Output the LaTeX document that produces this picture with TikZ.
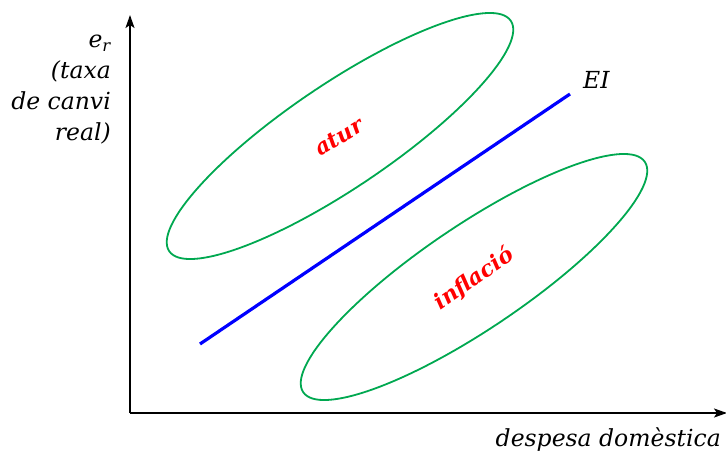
\documentclass[tikz,border=0pt]{standalone}
\usepackage{fontspec}
\setmainfont{DejaVu Serif}
\usetikzlibrary{shapes.geometric,arrows.meta}
\definecolor{zgreen}{RGB}{0,168,80}
\begin{document}
\begin{tikzpicture}[x=1pt,y=-1pt,
  axis/.style={line width=1.8pt,-{Stealth[length=13pt,width=9pt,inset=3pt]}},
  blob/.style={ellipse,draw=zgreen,line width=1.8pt,minimum width=412pt,minimum height=104pt,inner sep=0pt},
  lbl/.style={text=red,font=\fontsize{22}{26}\selectfont\bfseries\itshape,inner sep=0pt},
  txt/.style={font=\fontsize{23.5}{31}\selectfont\itshape,inner sep=0pt},
  eiline/.style={draw=blue,line width=3.2pt}]
\useasboundingbox (0,0) rectangle (726,453);
\coordinate (O) at (130,413);
\coordinate (Ytop) at (130,15);
\coordinate (Xend) at (727,413);
\draw[axis] (O) -- (Ytop);
\draw[axis] (O) -- (Xend);
\node[blob,rotate=34] (ell1) at (340,136) {};
\node[blob,rotate=34] (ell2) at (474,277) {};
\node[lbl,rotate=31] (atur) at (339,137) {atur};
\node[lbl,rotate=35] (infl) at (474,279) {inflació};
\coordinate (EIa) at (200,344);
\coordinate (EIb) at (570,94);
\draw[eiline] (EIa) -- (EIb);
\node[txt,anchor=west] (EI) at (583,80) {EI};
\node[txt,anchor=north east,align=right] (ylab) at (111,35) {e\textsubscript{r}\\(taxa\\de canvi\\real)};
\node[txt,anchor=east] (xlab) at (721,440) {despesa domèstica};
\end{tikzpicture}
\end{document}
